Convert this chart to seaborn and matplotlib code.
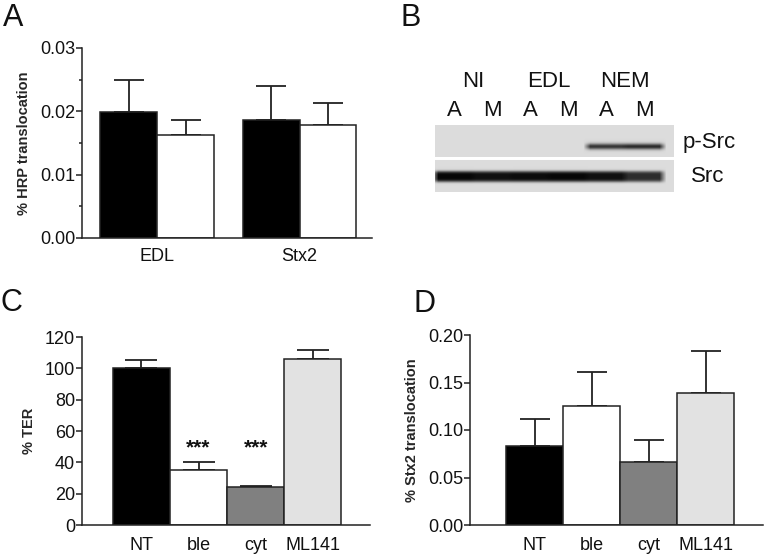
import numpy as np
import pandas as pd
import seaborn as sns
import matplotlib
matplotlib.use('Agg')
import matplotlib.pyplot as plt
from matplotlib.ticker import FormatStrFormatter, MultipleLocator

# panel A: % HRP translocation
groups_a = ["EDL", "Stx2"]
series_a = ["A", "M"]
hrp_a = [0.0199, 0.0186]
hrp_a_err = [0.0050, 0.0054]
hrp_m = [0.0163, 0.0178]
hrp_m_err = [0.0024, 0.0035]

# panel B: western blot, band intensity per lane (0 = none, 1 = black)
blot_groups = ["NI", "EDL", "NEM"]
blot_lanes = ["A", "M", "A", "M", "A", "M"]
psrc_band = [0.0, 0.0, 0.0, 0.0, 0.75, 0.8]
src_band = [0.97, 0.93, 0.95, 0.97, 0.93, 0.8]

# panels C and D
treatments = ["NT", "ble", "cyt", "ML141"]
ter = [100.0, 35.0, 24.0, 106.0]
ter_err = [5.5, 5.0, 1.0, 6.0]
ter_signif = ["", "***", "***", ""]
stx2 = [0.083, 0.125, 0.066, 0.139]
stx2_err = [0.029, 0.036, 0.023, 0.044]
bar_colors = ["#000000", "#ffffff", "#808080", "#e2e2e2"]

W, H = 766, 554
INK = "#222222"

sns.set_style("ticks")
plt.rcParams['font.family'] = ['Liberation Sans', 'DejaVu Sans']

fig = plt.figure(figsize=(W / 100, H / 100), dpi=100)


def box(x0, y0, x1, y1):
    # pixel box -> figure fraction
    return [x0 / W, 1 - y1 / H, (x1 - x0) / W, (y1 - y0) / H]


def style(ax, xpad):
    sns.despine(ax=ax)
    for s in ["left", "bottom"]:
        ax.spines[s].set_linewidth(1.1)
        ax.spines[s].set_color(INK)
    ax.tick_params(axis="y", which="major", length=4, width=1.1, color=INK,
                   labelsize=13, pad=1, labelcolor="#111111")
    ax.tick_params(axis="y", which="minor", length=2, width=1.1, color=INK)
    ax.tick_params(axis="x", length=0, labelsize=13, pad=xpad, labelcolor="#111111")
    ax.set_xlabel("")


def add_err(ax, patches, errs, capsize):
    for p, e in zip(patches, errs):
        x = p.get_x() + p.get_width() / 2
        y = p.get_height()
        ax.errorbar([x], [y], yerr=[[0], [e]], fmt="none", ecolor=INK,
                    elinewidth=1.3, capsize=capsize, capthick=1.3, zorder=1)


# ---- A
ax_a = fig.add_axes(box(82, 48, 372, 238))
df_a = pd.DataFrame({
    "group": groups_a * 2,
    "series": [series_a[0]] * 2 + [series_a[1]] * 2,
    "value": hrp_a + hrp_m,
})
sns.barplot(data=df_a, x="group", y="value", hue="series", order=groups_a,
            hue_order=series_a, palette=["#000000", "#ffffff"], errorbar=None,
            width=0.8, edgecolor=INK, linewidth=1.1, legend=False, ax=ax_a, zorder=2)
add_err(ax_a, ax_a.containers[0], hrp_a_err, 10.5)
add_err(ax_a, ax_a.containers[1], hrp_m_err, 10.5)
ax_a.set_ylim(0, 0.03)
ax_a.set_xlim(-0.53, 1.51)
ax_a.yaxis.set_major_locator(MultipleLocator(0.01))
ax_a.yaxis.set_minor_locator(MultipleLocator(0.005))
ax_a.yaxis.set_major_formatter(FormatStrFormatter("%.2f"))
ax_a.set_ylabel("% HRP translocation", fontsize=10.5, fontweight="bold", labelpad=6)
style(ax_a, 7)

# ---- B
ax_b = fig.add_axes(box(435, 125, 674, 192))
lane_w = 38
ncol = 239
nrow = 67
cols = np.arange(ncol)
rows = np.arange(nrow)[:, None]


def lane_profile(vals):
    prof = np.zeros(ncol)
    for i, v in enumerate(vals):
        prof[i * lane_w:(i + 1) * lane_w] = v
    k = np.ones(7) / 7
    return np.convolve(prof, k, mode="same")


bg = 0.86
img = np.full((nrow, ncol), bg)
p1 = lane_profile(psrc_band)[None, :] * np.exp(-((rows - 21) / 3.0) ** 2)
p2 = lane_profile(src_band)[None, :] * np.exp(-((rows - 51) / 5.5) ** 4)
img = bg * (1 - np.clip(p1 + p2, 0, 1))
img[32:35, :] = 1.0
ax_b.imshow(img, cmap="gray", vmin=0, vmax=1, aspect="auto",
            extent=[0, ncol, nrow, 0], interpolation="bilinear")
ax_b.set_xlim(0, ncol)
ax_b.set_ylim(nrow, 0)
ax_b.axis("off")
for i, lab in enumerate(blot_lanes):
    ax_b.text(i * lane_w + lane_w / 2, -15, lab, ha="center", va="center",
              fontsize=16, color="#111111", clip_on=False)
for i, lab in enumerate(blot_groups):
    ax_b.text(i * 2 * lane_w + lane_w, -44, lab, ha="center", va="center",
              fontsize=16, color="#111111", clip_on=False)
ax_b.text(248, 17, "p-Src", ha="left", va="center", fontsize=16, color="#111111", clip_on=False)
ax_b.text(256, 52, "Src", ha="left", va="center", fontsize=16, color="#111111", clip_on=False)

# ---- C
ax_c = fig.add_axes(box(82, 337, 370, 525))
df_c = pd.DataFrame({"treatment": treatments, "value": ter})
sns.barplot(data=df_c, x="treatment", y="value", hue="treatment", order=treatments,
            palette=bar_colors, errorbar=None, width=1.0, edgecolor=INK,
            linewidth=1.1, legend=False, ax=ax_c, zorder=2)
add_err(ax_c, ax_c.patches, ter_err, 11.5)
for i, s in enumerate(ter_signif):
    if s:
        ax_c.text(i, 49, s, ha="center", va="center", fontsize=15,
                  fontweight="bold", color="#111111")
ax_c.set_ylim(0, 120)
ax_c.set_xlim(-1.04, 4.0)
ax_c.yaxis.set_major_locator(MultipleLocator(20))
ax_c.set_ylabel("% TER", fontsize=10.5, fontweight="bold", labelpad=6)
style(ax_c, 9)

# ---- D
ax_d = fig.add_axes(box(470, 335, 763, 525))
df_d = pd.DataFrame({"treatment": treatments, "value": stx2})
sns.barplot(data=df_d, x="treatment", y="value", hue="treatment", order=treatments,
            palette=bar_colors, errorbar=None, width=1.0, edgecolor=INK,
            linewidth=1.1, legend=False, ax=ax_d, zorder=2)
add_err(ax_d, ax_d.patches, stx2_err, 10.8)
ax_d.set_ylim(0, 0.2)
ax_d.set_xlim(-1.14, 4.0)
ax_d.yaxis.set_major_locator(MultipleLocator(0.05))
ax_d.yaxis.set_major_formatter(FormatStrFormatter("%.2f"))
ax_d.set_ylabel("% Stx2 translocation", fontsize=10.5, fontweight="bold", labelpad=6)
style(ax_d, 9)

# panel letters
for lab, x, y in [("A", 3, 26), ("B", 400, 26), ("C", 1, 311), ("D", 414, 312)]:
    fig.text(x / W, 1 - y / H, lab, fontsize=22, color="#111111", ha="left", va="baseline")

fig.savefig("out.png", dpi=100)
